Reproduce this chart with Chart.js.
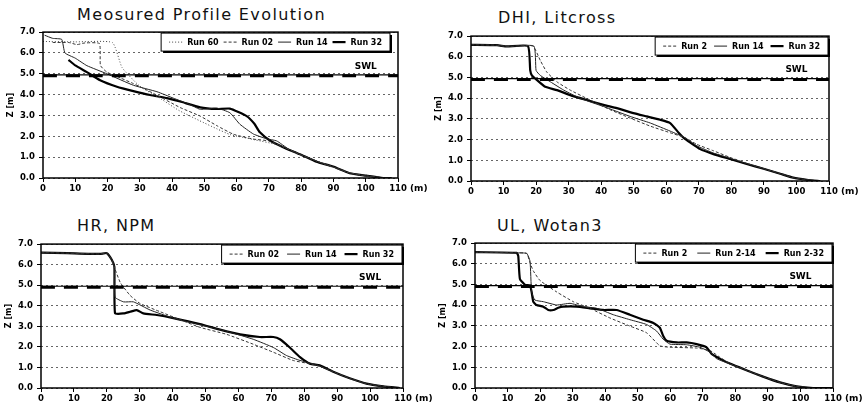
<!DOCTYPE html>
<html>
<head>
<meta charset="utf-8">
<script src="https://cdn.jsdelivr.net/npm/chart.js@4.4.0/dist/chart.umd.min.js"></script>
<style>
  body { margin: 0; background: #fff; width: 865px; height: 405px; overflow: hidden; position: relative; }
  .ttl { position: absolute; font-family: "DejaVu Sans", sans-serif; font-size: 16px; letter-spacing: 1.4px; color: #111; white-space: nowrap; line-height: 18px; }
  canvas { position: absolute; }
</style>
</head>
<body>
<div class="ttl" id="t1" style="left:77px;top:6px">Meosured Profile Evolution</div>
<div class="ttl" id="t2" style="left:498px;top:9px">DHI, Litcross</div>
<div class="ttl" id="t3" style="left:77px;top:217px">HR, NPM</div>
<div class="ttl" id="t4" style="left:497px;top:217px">UL, Wotan3</div>
<canvas id="c1"></canvas>
<canvas id="c2"></canvas>
<canvas id="c3"></canvas>
<canvas id="c4"></canvas>
<script>
// axis ticks and still water level
const xTickValues = [0, 10, 20, 30, 40, 50, 60, 70, 80, 90, 100, 110];
const zTickValues = [0, 1, 2, 3, 4, 5, 6, 7];
const swlLevel = 4.95;
const swlLabelX = 100;

// Measured profile evolution  [x (m), z (m)]
const measRun60 = [[0,6.55],[10,6.53],[21.5,6.5],[24.5,5.3],[30,4.4],[36,3.85],[42,3.25],[48.5,2.75],[54,2.35],[58,2.08],[62,1.95],[66,1.82],[72,1.62],[76,1.38],[80,1.1],[85,0.8],[90,0.52],[95,0.25],[100,0.1],[105,0.02],[108,0]];
const measRun02 = [[3,6.5],[8,6.5],[10.5,6.4],[13,6.48],[17.5,6.45],[17.8,5.4],[19.8,5.08],[24,4.8],[28,4.53],[34,4.08],[42.5,3.38],[48.7,2.97],[54,2.5],[59,2.1],[65,1.87],[70,1.78],[74,1.52],[80,1.1],[85,0.8],[90,0.52],[95,0.25],[100,0.1],[105,0.02],[108,0]];
const measRun14 = [[0.5,6.85],[3,6.7],[5.8,6.65],[6.8,6.0],[10,5.75],[13.6,5.39],[19.8,5.0],[28,4.45],[35.3,4.14],[40.4,3.83],[45.6,3.52],[48.5,3.3],[50,3.3],[53.8,3.36],[57.9,3.13],[61,2.58],[65.2,2.11],[69.3,1.88],[72.4,1.78],[76,1.4],[80,1.12],[85,0.8],[90,0.53],[95,0.24],[100,0.1],[105,0.02],[108,0]];
const measRun32 = [[7.9,5.67],[10,5.4],[13.6,5.08],[17.7,4.69],[22.9,4.38],[28,4.17],[33.2,3.98],[38.4,3.83],[42.5,3.67],[48.7,3.39],[53.8,3.31],[57.9,3.33],[63.1,2.97],[65.5,2.6],[67.2,2.19],[70.3,1.8],[74.4,1.48],[79.6,1.14],[84.7,0.78],[89.9,0.55],[95,0.23],[100.2,0.11],[105.4,0],[108,0]];

// DHI, Litcross
const dhiRun2 = [[0,6.58],[8,6.56],[11,6.5],[19,6.52],[21.3,5.82],[23.3,5.26],[26.4,4.79],[30.5,4.39],[36.6,3.91],[42.8,3.44],[48.9,3.04],[55.1,2.65],[61.2,2.33],[65.8,2.09],[69.4,1.77],[74.5,1.46],[79.6,1.14],[84.7,0.86],[89.9,0.6],[95,0.36],[99,0.16],[103.2,0.06],[107.3,0]];
const dhiRun14 = [[0,6.58],[8,6.56],[11,6.5],[19.3,6.52],[20,5.34],[21.3,5.1],[24.4,4.79],[28.5,4.39],[33.6,3.99],[40.7,3.6],[48.9,3.12],[55.1,2.8],[61.2,2.41],[65.8,2.09],[69.4,1.7],[74.5,1.35],[79.6,1.1],[84.7,0.84],[89.9,0.6],[95,0.35],[99,0.16],[103.2,0.06],[107.3,0]];
const dhiRun32 = [[0,6.58],[8,6.56],[11,6.5],[17.5,6.52],[18.2,5.34],[18.7,5.1],[20.3,4.87],[22.8,4.55],[26.4,4.39],[30.5,4.15],[35.6,3.91],[40.7,3.68],[44.8,3.52],[49.9,3.28],[54,3.12],[58.1,2.96],[61.2,2.8],[63.8,2.33],[65.3,2.09],[67.4,1.85],[70.4,1.54],[74.5,1.3],[79.6,1.06],[84.7,0.82],[89.9,0.59],[95,0.35],[99,0.16],[103.2,0.06],[107.3,0]];

// HR, NPM
const hrRun02 = [[0,6.59],[7.9,6.56],[18,6.52],[20,6.56],[21.5,6.24],[22,6.0],[24.1,5.13],[27.1,4.5],[30.1,4.11],[36.2,3.71],[42.3,3.32],[48.3,2.95],[56.4,2.61],[64.5,2.13],[70.6,1.74],[76.6,1.34],[81.7,1.18],[84.7,1.05],[88.8,0.79],[93.8,0.47],[98.9,0.21],[104,0.08],[109,0]];
const hrRun14 = [[0,6.59],[7.9,6.56],[18,6.52],[20,6.56],[21.5,6.24],[22.3,5.9],[22.5,4.42],[25.1,4.19],[28.1,4.19],[33.2,3.79],[40.2,3.4],[48.3,3.08],[56.4,2.76],[64.5,2.37],[70.6,1.97],[74.6,1.58],[78.7,1.34],[82.7,1.18],[84.7,1.08],[88.8,0.79],[93.8,0.47],[98.9,0.21],[104,0.08],[109,0]];
const hrRun32 = [[0,6.59],[7.9,6.56],[18,6.52],[20,6.56],[21.5,6.24],[22.3,5.9],[22.5,3.63],[25.1,3.63],[27.1,3.71],[29.1,3.79],[31.1,3.63],[35.2,3.55],[40.2,3.4],[48.3,3.11],[54.4,2.84],[60.5,2.61],[66.5,2.48],[70.6,2.48],[72.6,2.37],[75.6,1.97],[78.7,1.5],[81.7,1.18],[84.7,1.1],[88.8,0.79],[93.8,0.47],[98.9,0.21],[104,0.08],[109,0]];

// UL, Wotan3
const ulRun2 = [[0,6.56],[12.8,6.53],[15.9,6.5],[16.9,6.05],[17.9,5.66],[20,5.19],[25.1,4.64],[30.2,4.17],[35.3,3.85],[41.5,3.38],[47.6,2.99],[52.7,2.67],[56.8,2.04],[59.9,1.97],[68.1,1.93],[72.2,1.81],[75.2,1.49],[78.3,1.18],[83.4,0.86],[88.5,0.55],[93.7,0.27],[98.8,0.08],[103.9,0]];
const ulRun214 = [[0,6.56],[12.8,6.53],[15.9,6.5],[16.9,6.13],[17.4,4.64],[18.4,4.25],[21,4.17],[25.1,4.01],[29.2,4.09],[33.3,3.93],[37.4,3.85],[42.5,3.54],[47.6,3.3],[52.7,3.07],[55.8,2.75],[57.8,2.36],[59.9,2.12],[65,2.09],[69.1,1.97],[72.2,1.73],[74.2,1.42],[78.3,1.16],[83.4,0.86],[88.5,0.55],[93.7,0.27],[98.8,0.08],[103.9,0]];
const ulRun232 = [[0,6.56],[12.8,6.53],[13.3,6.37],[13.8,5.27],[15.4,4.98],[16.9,4.95],[17.4,4.64],[17.9,4.17],[18.9,4.01],[21,3.93],[22.5,3.77],[24.1,3.77],[25.6,3.88],[27.1,3.93],[31.2,3.93],[35.3,3.85],[39.4,3.77],[43.5,3.77],[47.6,3.54],[51.7,3.3],[54.8,3.14],[56.8,2.91],[57.8,2.52],[58.9,2.28],[62,2.2],[65,2.2],[68.1,2.12],[71.1,1.97],[72.7,1.65],[75.2,1.42],[78.3,1.18],[83.4,0.86],[88.5,0.55],[93.7,0.27],[98.8,0.08],[103.9,0],[110,0]];

const lineStyles = {
  dotted: { borderDash: [1, 2], borderWidth: 1, borderColor: '#444' },
  dashed: { borderDash: [3, 2], borderWidth: 1, borderColor: '#333' },
  thin:   { borderDash: [],     borderWidth: 1, borderColor: '#222' },
  thick:  { borderDash: [],     borderWidth: 2.2, borderColor: '#000' }
};

const boldFont = '"DejaVu Sans", Arial, sans-serif';
const tickFont = { family: boldFont, size: 8.5, weight: 'bold' };

// frame, SWL label, "(m)" and the boxed legend
const extras = {
  id: 'extras',
  afterDatasetsDraw(chart, args, opts) {
    const { ctx, chartArea: a, scales: { x, y } } = chart;
    ctx.save();
    ctx.setLineDash([]);
    ctx.strokeStyle = '#000';
    ctx.lineWidth = 1.5;
    ctx.strokeRect(a.left, a.top, a.width, a.height);

    ctx.fillStyle = '#000';
    ctx.font = 'bold 9px ' + boldFont;
    ctx.textAlign = 'center';
    ctx.textBaseline = 'bottom';
    ctx.fillText('SWL', x.getPixelForValue(swlLabelX), y.getPixelForValue(swlLevel) - 4);

    ctx.textAlign = 'left';
    ctx.textBaseline = 'top';
    ctx.fillText('(m)', x.getPixelForValue(110) + 12, a.bottom + 6);

    // legend
    const runs = chart.data.datasets.filter(d => !d.isLevel);
    ctx.font = 'bold 8px ' + boldFont;
    const sample = 13, gap = 5, space = opts.space, pad = 8;
    let w = pad * 2 + space * (runs.length - 1);
    runs.forEach(d => { w += sample + gap + ctx.measureText(d.label).width; });
    const bh = 18;
    const bx = a.right - opts.inset - w, by = a.top + 1;
    ctx.fillStyle = '#fff';
    ctx.fillRect(bx, by, w, bh);
    ctx.lineWidth = 1;
    ctx.strokeRect(bx, by, w, bh);
    ctx.lineWidth = 2;
    ctx.beginPath();
    ctx.moveTo(bx + 2, by + bh + 1); ctx.lineTo(bx + w + 1, by + bh + 1); ctx.lineTo(bx + w + 1, by + 2);
    ctx.stroke();
    let cx = bx + pad;
    const cy = by + bh / 2;
    runs.forEach(d => {
      ctx.setLineDash(d.borderDash);
      ctx.lineWidth = d.borderWidth;
      ctx.strokeStyle = d.borderColor;
      ctx.beginPath();
      ctx.moveTo(cx, cy); ctx.lineTo(cx + sample, cy);
      ctx.stroke();
      ctx.setLineDash([]);
      cx += sample + gap;
      ctx.fillStyle = '#000';
      ctx.textBaseline = 'middle';
      ctx.fillText(d.label, cx, cy + 0.5);
      cx += ctx.measureText(d.label).width + space;
    });
    ctx.restore();
  }
};

function panel(id, area, labels, series, styles, legendOpts) {
  const cv = document.getElementById(id);
  const padL = 42, padT = 6, padR = 36, padB = 22;
  cv.style.left = (area[0] - padL) + 'px';
  cv.style.top = (area[1] - padT) + 'px';
  cv.width = area[2] - area[0] + padL + padR;
  cv.height = area[3] - area[1] + padT + padB;

  const datasets = [
    { label: 'SWL', isLevel: true, data: [[0, swlLevel], [110, swlLevel]], borderColor: '#000', borderWidth: 1.2 },
    { label: 'SWL', isLevel: true, data: [[0, swlLevel - 0.05], [110, swlLevel - 0.05]], borderColor: '#000', borderWidth: 3, borderDash: [14, 9] }
  ];
  series.forEach((s, i) => {
    datasets.push(Object.assign({ label: labels[i], data: s }, lineStyles[styles[i]]));
  });
  datasets.forEach(d => {
    d.data = d.data.map(p => ({ x: p[0], y: p[1] }));
    d.pointRadius = 0;
    d.fill = false;
    d.tension = 0.15;
  });

  new Chart(cv, {
    type: 'line',
    data: { datasets },
    plugins: [extras],
    options: {
      responsive: false,
      animation: false,
      layout: { padding: { top: padT, right: padR, left: 0, bottom: 0 } },
      plugins: {
        legend: { display: false },
        tooltip: { enabled: false },
        extras: legendOpts
      },
      scales: {
        x: {
          type: 'linear', min: 0, max: 110,
          afterBuildTicks: s => { s.ticks = xTickValues.map(v => ({ value: v })); },
          afterFit: s => { s.height = padB; },
          grid: { drawOnChartArea: false, drawTicks: true, tickLength: 4, tickColor: '#000' },
          border: { display: false },
          ticks: { font: tickFont, color: '#000', padding: 2, maxRotation: 0 }
        },
        y: {
          type: 'linear', min: 0, max: 7,
          afterBuildTicks: s => { s.ticks = zTickValues.map(v => ({ value: v })); },
          afterFit: s => { s.width = padL; },
          grid: { color: '#666', lineWidth: 1, tickLength: 4, tickColor: '#000', tickBorderDash: [] },
          border: { display: false, dash: [2, 3] },
          title: { display: true, text: 'Z [m]', font: { family: boldFont, size: 8, weight: 'bold' }, color: '#000', padding: { top: 5, bottom: 0 } },
          ticks: { font: tickFont, color: '#000', padding: 4, callback: v => v.toFixed(1) }
        }
      }
    }
  });
}

panel('c1', [43, 29, 398, 178], ['Run 60', 'Run 02', 'Run 14', 'Run 32'],
  [measRun60, measRun02, measRun14, measRun32], ['dotted', 'dashed', 'thin', 'thick'], { inset: 8, space: 5 });
panel('c2', [471, 33, 829, 181], ['Run 2', 'Run 14', 'Run 32'],
  [dhiRun2, dhiRun14, dhiRun32], ['dashed', 'thin', 'thick'], { inset: 1, space: 7 });
panel('c3', [41, 241, 403, 388], ['Run 02', 'Run 14', 'Run 32'],
  [hrRun02, hrRun14, hrRun32], ['dashed', 'thin', 'thick'], { inset: 1, space: 8 });
panel('c4', [475, 240, 833, 388], ['Run 2', 'Run 2-14', 'Run 2-32'],
  [ulRun2, ulRun214, ulRun232], ['dashed', 'thin', 'thick'], { inset: 1, space: 10 });
</script>
</body>
</html>
